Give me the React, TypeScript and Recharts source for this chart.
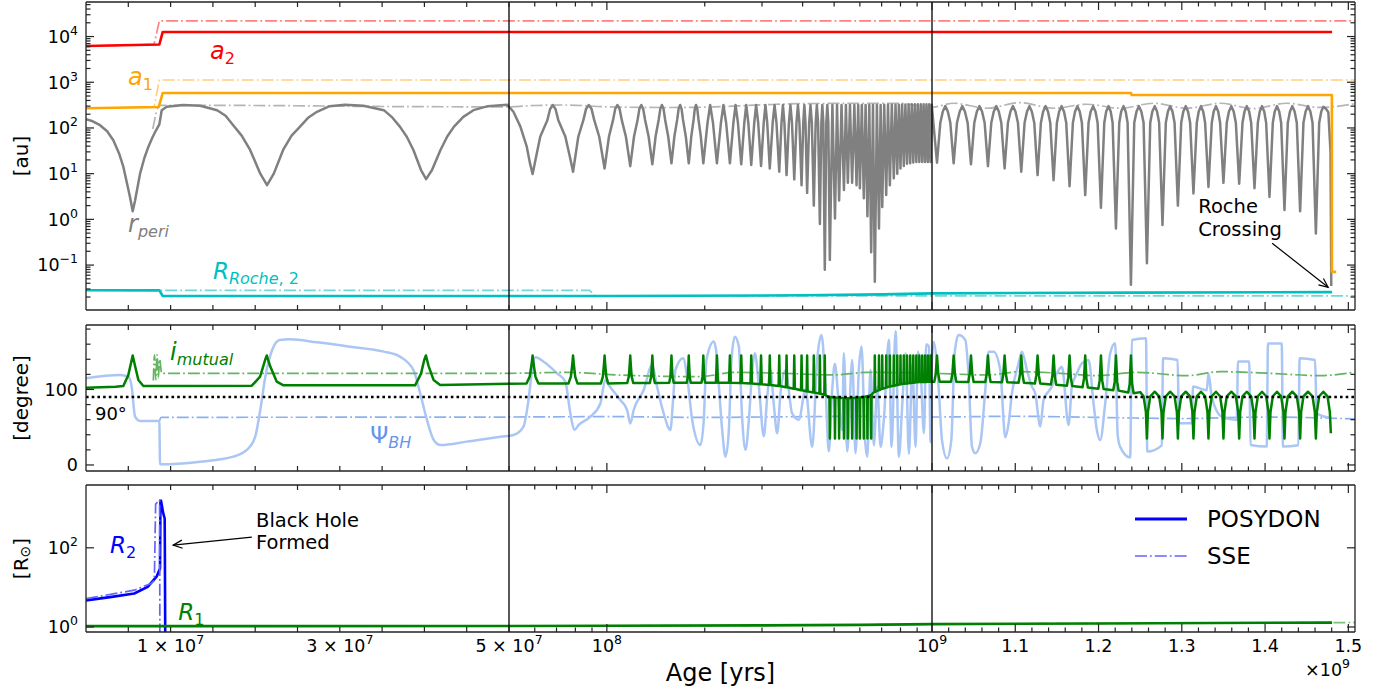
import React from 'react';
import { LineChart, Line, XAxis, YAxis, ReferenceLine, ReferenceDot, Legend } from 'recharts';

type Pt = [number, number];

// every age below is in Myr

// top panel [au]
const a2Posydon: Pt[] = [[0, 6200], [8.67, 6700], [9.07, 12600], [1480.5, 12600]];
const a2Sse: Pt[] = [[0, 6200], [8.04, 6700], [8.67, 22000], [1508, 22000]];
const a1Posydon: Pt[] = [[0, 270], [8.6, 288], [9.07, 582], [1239, 582], [1239.8, 525], [1480.2, 525], [1480.3, 0.071], [1485.4, 0.071]];
const a1Sse: Pt[] = [[0, 270], [8.04, 285], [8.67, 1120], [1508, 1120]];
const rocheP: Pt[] = [[0, 0.0281], [8.67, 0.028], [9.07, 0.0211], [100, 0.0211], [400, 0.0218], [700, 0.0228], [1000, 0.024], [1240, 0.025], [1480.5, 0.0256]];
const rocheSse: Pt[] = [[0, 0.0281], [88.5, 0.028], [92, 0.0211], [1508, 0.0211]];
const rPeriSse: Pt[] = [[7.9, 95], [8.7, 313], [20, 310], [35, 295], [50, 290], [60, 310], [75, 318], [100, 290], [150, 280], [200, 285], [300, 320], [400, 340], [600, 345], [800, 345], [990, 282], [1026, 347], [1066, 270], [1106, 358], [1146, 270], [1186, 330], [1226, 270], [1266, 347], [1306, 270], [1346, 347], [1386, 265], [1426, 347], [1466, 282], [1508, 340]];
const rPeriPosydon: Pt[] = [
  [0, 155], [0.8, 140], [1.66, 115], [2.5, 85], [3.23, 54], [3.9, 28], [4.42, 14], [5.2, 3.1], [5.52, 1.5], [5.8, 2.6], [6.39, 10], [6.9, 22], [7.38, 39], [7.85, 62], [8.28, 89], [8.67, 120],
  [8.95, 245], [9.54, 290], [11.5, 318], [13.5, 305], [15.5, 245], [16.5, 185], [17.4, 115], [18.4, 68], [19.4, 33], [20.6, 10], [21.4, 5.6],
  [22.2, 10], [23.3, 33], [24.3, 68], [25.3, 107], [26.3, 170], [27.3, 226], [28.8, 300], [30.6, 320],
  [32.8, 305], [35.2, 245], [36.2, 170], [37.1, 107], [37.9, 65], [38.7, 33], [39.6, 12], [40.2, 7.6],
  [40.9, 12], [41.9, 33], [42.7, 65], [43.5, 107], [44.6, 175], [45.8, 245], [47.5, 300], [49.8, 320],
  [51.6, 226], [54.2, 107], [56.7, 39], [58, 17], [59.1, 9.8],
  [60.3, 20], [62.4, 65], [65.6, 148], [66.9, 260], [68.2, 316], [69.5, 260], [70.9, 148], [74.5, 65], [77.1, 22], [78.7, 11],
  [81.7, 65], [84.7, 150], [86.3, 262], [88, 318], [89.7, 262], [91.4, 150], [94.7, 65], [98.4, 13],
  [101.5, 65], [104.5, 150], [106.1, 262], [107.8, 318], [109.4, 262], [111.1, 150], [114.4, 65], [118, 14.6],
  [121.2, 65], [124.3, 150], [125.9, 262], [127.6, 318], [129.3, 262], [131.1, 150], [134.4, 65], [138, 16],
  [141.2, 65], [144.3, 150], [146, 262], [147.7, 318], [149.4, 262], [151.1, 150], [154.4, 65], [158, 16.8],
  [161.3, 65], [164.5, 150], [166.2, 262], [168, 318], [169.7, 262], [171.5, 150], [174.9, 65], [178.6, 16.8],
  [181.8, 65], [184.8, 150], [186.4, 262], [188, 318], [189.7, 262], [191.4, 150], [194.5, 65], [198, 16.8],
  [204, 130], [207.8, 318], [212, 130], [218, 16.8], [224.3, 130], [228.3, 318], [232.7, 130], [239, 16.8],
  [245, 130], [248.8, 318], [253, 130], [259, 16], [264.7, 130], [268.3, 318], [272.3, 130], [278, 15.5],
  [284, 130], [287.8, 318], [292, 130], [298, 14.8], [303.7, 130], [307.4, 318], [311.3, 130], [317, 13],
  [323.6, 130], [327.9, 318], [332.4, 130], [339, 11], [344.4, 130], [347.9, 318], [351.6, 130], [357, 9.3],
  [363, 130], [366.9, 318], [371, 130], [377, 7.5], [383, 130], [386.9, 318], [391, 130], [397, 5.6],
  [401.8, 130], [404.9, 318], [408.2, 130], [413, 3.8], [419, 130], [422.9, 318], [427, 130], [433, 2],
  [438.7, 130], [442.4, 318], [446.3, 130], [452, 0.79], [456.8, 130], [459.9, 318], [463.2, 130], [468, 0.079],
  [473.1, 130], [476.4, 318], [479.9, 130], [485, 0.13],
  [493.9, 318], [503, 1.05], [510.4, 318], [518, 2.6], [526.9, 318], [536, 4.4], [543.5, 318], [551, 6.3], [559.4, 318], [568, 6.3],
  [577, 318], [586, 5.6], [593, 318], [600, 4.8], [608.4, 318], [617, 2.9], [624.9, 318], [633, 1.17], [641.4, 318], [650, 0.19],
  [658.4, 318], [667, 0.043], [676.9, 318], [687, 0.63], [695, 318], [703, 1.86], [713, 320], [723, 3.4], [732.4, 320], [742, 5.6],
  [752.4, 320], [763, 7.9], [772.4, 320], [782, 10], [791, 320], [800, 13], [809.4, 325], [819, 14.8], [828.4, 325], [838, 16.5],
  [847.4, 325], [857, 17], [866.4, 330], [876, 17.5], [885.4, 330], [895, 18], [904.4, 330], [914, 18], [923.4, 330], [933, 18],
  [942.4, 330], [952, 18], [961.4, 330], [971, 18], [980.4, 330], [990, 18], [998, 320],
  [1006, 17.4], [1010, 130], [1013, 230], [1016, 300], [1019, 230], [1022, 130],
  [1026, 16.8], [1030, 130], [1033.3, 230], [1036.4, 300], [1039.5, 230], [1042.8, 130],
  [1046.8, 16], [1050.8, 130], [1053.9, 230], [1057, 300], [1060.1, 230], [1063.2, 130],
  [1067.2, 14.6], [1071.2, 130], [1074.2, 230], [1077.2, 300], [1080.2, 230], [1083.2, 130],
  [1087.2, 13], [1091.2, 130], [1094.2, 230], [1097.2, 300], [1100.2, 230], [1103.2, 130],
  [1107.2, 11], [1111.2, 130], [1114.1, 230], [1117, 300], [1119.9, 230], [1122.8, 130],
  [1126.8, 9.3], [1130.8, 130], [1133.5, 230], [1136.4, 300], [1139.3, 230], [1142, 130],
  [1146, 7.2], [1150, 130], [1152.7, 230], [1155.6, 300], [1158.5, 230], [1161.2, 130],
  [1165.2, 5.3], [1169.2, 130], [1171.8, 230], [1174.6, 300], [1177.4, 230], [1180, 130],
  [1184, 3.4], [1188, 130], [1190.6, 230], [1193.5, 300], [1196.3, 230], [1198.9, 130],
  [1202.9, 1.8], [1206.9, 130], [1209.2, 230], [1212, 300], [1214.6, 230], [1216.9, 130],
  [1220.9, 0.63], [1224.9, 130], [1227.2, 230], [1230, 300], [1232.6, 230], [1234.9, 130],
  [1238.9, 0.037], [1242.9, 130], [1245.6, 230], [1248.5, 300], [1251.4, 230], [1254.1, 130],
  [1258.1, 0.11], [1262.1, 130], [1264.6, 230], [1267.5, 300], [1270.3, 230], [1272.8, 130],
  [1276.8, 0.75], [1280.8, 130], [1283.3, 230], [1286, 300], [1288.8, 230], [1291.3, 130],
  [1295.3, 2], [1299.3, 130], [1301.8, 230], [1304.7, 300], [1307.5, 230], [1310, 130],
  [1314, 3.7], [1318, 130], [1320.3, 230], [1323, 300], [1325.7, 230], [1328, 130],
  [1332, 5.1], [1336, 130], [1338.3, 230], [1341, 300], [1343.7, 230], [1346, 130],
  [1350, 6.3], [1354, 130], [1356.6, 230], [1359.5, 300], [1362.3, 230], [1364.9, 130],
  [1368.9, 6], [1372.9, 130], [1375.3, 230], [1378, 300], [1380.9, 230], [1383.3, 130],
  [1387.3, 4.8], [1391.3, 130], [1393.6, 230], [1396.3, 300], [1399, 230], [1401.3, 130],
  [1405.3, 3.1], [1409.3, 130], [1411.6, 230], [1414.3, 300], [1417, 230], [1419.3, 130],
  [1423.3, 1.6], [1427.3, 130], [1429.9, 230], [1432.7, 300], [1435.5, 230], [1438.1, 130],
  [1442.1, 1.5], [1446.1, 130], [1448.7, 230], [1451.5, 300], [1454.4, 230], [1457, 130],
  [1461, 0.49], [1465, 130], [1467.5, 230], [1470, 290], [1473, 265], [1476, 220], [1478.6, 30], [1479.5, 0.035],
];

// middle panel [degree]
const iMutPosydon: Pt[] = [
  [0, 102.4], [3.5, 103.5], [4.41, 104.6], [5, 119], [5.4, 139], [5.52, 145], [5.8, 131], [6.19, 112.6], [6.78, 104.6],
  [19.6, 105], [20.58, 117], [21.17, 139], [21.37, 145], [21.76, 131], [22.55, 110.3], [23.34, 105.5],
  [38.9, 105.5], [39.6, 121], [39.98, 139], [40.18, 145], [40.5, 131], [41.08, 112.6], [41.87, 106], [50, 107.5],
  [56.6, 108], [57.9, 117], [58.7, 134], [59.1, 145], [59.5, 134], [60.3, 117], [61.6, 108],
  [76.2, 108], [77.5, 117], [78.3, 134], [78.7, 145], [79.1, 134], [79.9, 117], [81.2, 108],
  [95.9, 108], [97.2, 117], [98, 134], [98.4, 145], [98.8, 134], [99.6, 117], [100.9, 108],
  [115.5, 108.5], [116.8, 117], [117.6, 134], [118, 145], [118.4, 134], [119.2, 117], [120.5, 108.5],
  [135.5, 108.5], [136.8, 117], [137.6, 134], [138, 145], [138.4, 134], [139.2, 117], [140.5, 108.5],
  [155.5, 109], [156.8, 117], [157.6, 134], [158, 145], [158.4, 134], [159.2, 117], [160.5, 109],
  [176.1, 109], [177.4, 117], [178.2, 134], [178.6, 145], [179, 134], [179.8, 117], [181.1, 109],
  [195.5, 109], [196.8, 117], [197.6, 134], [198, 145], [198.4, 134], [199.2, 117], [200.5, 109],
  [216.5, 109], [218, 145], [219.5, 109], [237.5, 109], [239, 145], [240.5, 109], [257.5, 108.5], [259, 145], [260.5, 108.5],
  [276.5, 108], [278, 145], [279.5, 108], [296.5, 107], [298, 145], [299.5, 107], [315.5, 106], [317, 145], [318.5, 106],
  [337.5, 104.5], [339, 145], [340.5, 104.5], [355.5, 103], [357, 145], [358.5, 103], [375.5, 101], [377, 145], [378.5, 101],
  [395.5, 99], [397, 145], [398.5, 99], [411.5, 97.5], [413, 145], [414.5, 97.5], [431.5, 96], [433, 145], [434.5, 96],
  [450.5, 94.5], [452, 145], [453.5, 94.5], [466.5, 93], [468, 145], [469.5, 93],
  [476, 91], [483.5, 90], [485, 35], [486.5, 90], [501.5, 89.5], [503, 35], [504.5, 89.5], [516.5, 89], [518, 35], [519.5, 89],
  [534.5, 88.5], [536, 35], [537.5, 88.5], [549.5, 88.5], [551, 35], [552.5, 88.5], [566.5, 88.5], [568, 35], [569.5, 88.5],
  [584.5, 89], [586, 35], [587.5, 89], [598.5, 89.5], [600, 35], [601.5, 89.5], [615.5, 90], [617, 35], [618.5, 90],
  [631.5, 91], [633, 35], [634.5, 91], [648.5, 92.5], [650, 35], [651.5, 93],
  [665.5, 97], [667, 145], [668.5, 97], [685.5, 99], [687, 145], [688.5, 99], [701.5, 101], [703, 145], [704.5, 101],
  [721.5, 102.5], [723, 145], [724.5, 102.5], [740.5, 104], [742, 145], [743.5, 104], [761.5, 105], [763, 145], [764.5, 105],
  [780.5, 106], [782, 145], [783.5, 106], [798.5, 107], [800, 145], [801.5, 107], [817.5, 107.5], [819, 145], [820.5, 107.5],
  [836.5, 108], [838, 145], [839.5, 108], [855.5, 108.5], [857, 145], [858.5, 108.5], [874.5, 109], [876, 145], [877.5, 109],
  [893.5, 109.5], [895, 145], [896.5, 109.5], [912.5, 110], [914, 145], [915.5, 110], [931.5, 110], [933, 145], [934.5, 110],
  [950.5, 110], [952, 145], [953.5, 110], [969.5, 110.3], [971, 145], [972.5, 110.3], [988.5, 110.3], [990, 145], [991.5, 110.3],
  [1002.8, 110.3], [1004.5, 121], [1006, 145], [1007.5, 121], [1009.2, 110.3],
  [1022.8, 110.3], [1024.5, 121], [1026, 145], [1027.5, 121], [1029.2, 110.3],
  [1043.6, 110], [1045.3, 121], [1046.8, 145], [1048.3, 121], [1050, 110],
  [1064, 110], [1065.7, 121], [1067.2, 145], [1068.7, 121], [1070.4, 110],
  [1084, 109.5], [1085.7, 120.5], [1087.2, 145], [1088.7, 120.5], [1090.4, 109.5],
  [1104, 109], [1105.7, 120], [1107.2, 145], [1108.7, 120], [1110.4, 108.8],
  [1123.6, 108], [1125.3, 119], [1126.8, 145], [1128.3, 119], [1130, 107.8],
  [1142.8, 106.5], [1144.5, 117.5], [1146, 145], [1147.5, 117.5], [1149.2, 106.3],
  [1162, 105], [1163.7, 116], [1165.2, 145], [1166.7, 116], [1168.4, 104.7],
  [1180.8, 103], [1182.5, 114], [1184, 145], [1185.5, 114], [1187.2, 102.7],
  [1199.7, 101], [1201.4, 112], [1202.9, 145], [1204.4, 112], [1206.1, 100.6],
  [1217.7, 99], [1219.4, 110], [1220.9, 145], [1222.4, 110], [1224.1, 98.5],
  [1235.7, 96], [1237.4, 107], [1238.9, 145], [1240.4, 107], [1242.1, 95],
  [1250, 96.5], [1254.1, 91], [1256.9, 70], [1258.1, 35],
  [1259.3, 70], [1262.1, 91], [1267.5, 97], [1272.8, 91], [1275.6, 70], [1276.8, 35],
  [1278, 70], [1280.8, 91], [1286, 97], [1291.3, 91], [1294.1, 70], [1295.3, 35],
  [1296.5, 70], [1299.3, 91], [1304.7, 97], [1310, 91], [1312.8, 70], [1314, 35],
  [1315.2, 70], [1318, 91], [1323, 97], [1328, 91], [1330.8, 70], [1332, 35],
  [1333.2, 70], [1336, 91], [1341, 97], [1346, 91], [1348.8, 70], [1350, 35],
  [1351.2, 70], [1354, 91], [1359.5, 97], [1364.9, 91], [1367.7, 70], [1368.9, 35],
  [1370.1, 70], [1372.9, 91], [1378, 97], [1383.3, 91], [1386.1, 70], [1387.3, 35],
  [1388.5, 70], [1391.3, 91], [1396.3, 97], [1401.3, 91], [1404.1, 70], [1405.3, 35],
  [1406.5, 70], [1409.3, 91], [1414.3, 97], [1419.3, 91], [1422.1, 70], [1423.3, 35],
  [1424.5, 70], [1427.3, 91], [1432.7, 97], [1438.1, 91], [1440.9, 70], [1442.1, 35],
  [1443.3, 70], [1446.1, 91], [1451.5, 97], [1457, 91], [1459.8, 70], [1461, 35],
  [1462.2, 70], [1465, 91], [1470, 97], [1475, 91], [1477.8, 70], [1479, 42],
];
const iMutSse: Pt[] = [[7.96, 112], [8.1, 146], [8.25, 113], [8.4, 146], [8.55, 115], [8.7, 140], [8.95, 121.4], [50, 121.4], [75.4, 122.6], [107.9, 119.2], [194, 117], [245.7, 122.6], [349.7, 121.4], [499, 119.2], [631, 122.6], [1001.9, 121.4], [1066, 119.2], [1106, 123.6], [1154, 121.4], [1198, 118.3], [1246, 122.7], [1306, 118.3], [1346, 123.6], [1406, 121.4], [1466, 118.3], [1506, 122.7]];
const psiPosydon: Pt[] = [
  [0, 114.8], [4.02, 119.2], [5, 117], [5.4, 103.7], [5.8, 64], [6.39, 58.3], [8.67, 58.3], [8.75, 0.9], [13.5, 4.4], [17.4, 11], [19, 19.9],
  [20, 37.5], [20.6, 72.8], [21.2, 117], [22, 152.3], [22.9, 165.6], [24.1, 166.5], [27.3, 162.5], [31.2, 156.7], [35.2, 150.1], [37.1, 143.5],
  [38.7, 125.8], [39.5, 95], [40.3, 59.6], [41.1, 33.1], [41.9, 26.5], [45, 30.9], [49, 37.5],
  [51.6, 39.7], [55.4, 50.8], [57.4, 86], [58.9, 125.8], [60.3, 142.6], [63.9, 136.7], [70.3, 121.4], [74.5, 110.4], [77.2, 68.4], [79.4, 46.4],
  [81.9, 53], [89, 64], [95.5, 81.5], [98.9, 112.6], [101.3, 106], [110, 86], [115.4, 72.8], [118.1, 55], [120.9, 72.8], [129.8, 99.3],
  [137.8, 132.5], [142.7, 103.6], [149.5, 68.4], [156.8, 46.4], [159.8, 86], [162.5, 125.8], [171.6, 141.3], [176.5, 117], [183, 59.6],
  [194, 26.5], [198.6, 59.6], [202.4, 139], [213.2, 163.4], [217, 150], [221, 105], [226.3, 46], [231.7, 11], [237.2, 46], [241.7, 139],
  [247.5, 170], [254.6, 157], [260.8, 60], [267, 20], [273.4, 60], [280, 126], [285.2, 148], [293.3, 105], [303.9, 38], [311.3, 90],
  [318.6, 126], [326.2, 80], [334.1, 42], [342, 95], [354.3, 125], [371.6, 68], [389.4, 60], [408.3, 100], [428.1, 24], [443.5, 140],
  [457.2, 172], [470.3, 104], [481.5, 18], [493.3, 100], [502.5, 134], [516.9, 81], [529.5, 46], [535.5, 148], [548.5, 18], [568.3, 139],
  [581.8, 15.5], [595.6, 126], [607.1, 157], [621.5, 37], [632.2, 11], [647, 126], [662.4, 26], [678.6, 104], [694.6, 24], [711.1, 60],
  [736.8, 166], [751, 24], [772.6, 177], [791, 11], [810.3, 81], [829.5, 148], [849.1, 15], [869.8, 134], [890.3, 24], [905, 150],
  [922.5, 126], [944.4, 42], [960, 160], [978.5, 157], [990, 30], [996, 120],
  [1001.9, 163], [1007.9, 103.8], [1012, 33], [1018, 8.8], [1023.2, 33], [1027.2, 148], [1031.9, 172], [1040, 165.6], [1044, 117],
  [1048, 24.3], [1052, 15.5], [1058, 28.7], [1064, 99.3], [1068, 150], [1074, 150], [1082, 125.8], [1088, 36.7], [1092, 55.2],
  [1096, 94.9], [1104, 134.7], [1108, 150], [1114, 125.8], [1120, 103.8], [1124, 94.9], [1130, 50.8], [1134, 86], [1144, 103.8],
  [1150, 121.4], [1156, 130.2], [1164, 53], [1168, 103.8], [1174, 121.4], [1180, 134.7], [1188, 139], [1194, 81.6], [1198, 46.4],
  [1202, 33.1], [1208, 81.6], [1214, 147.9], [1220, 161.1], [1223, 40], [1226, 24], [1238, 10], [1240, 165.6], [1257, 167.8],
  [1258.5, 17.7], [1276, 26], [1277.5, 141.3], [1295, 139], [1296.5, 55.2], [1312, 55.2], [1313.5, 103.8], [1330, 99], [1332, 121],
  [1336, 90], [1348, 64], [1366, 59.6], [1367.5, 137], [1381, 136.9], [1382.5, 26.5], [1402, 24.3], [1403.5, 161], [1420, 161],
  [1421.5, 24.3], [1440, 26], [1441.5, 141.3], [1460, 139], [1462, 68.4], [1480, 62],
];
const psiSse: Pt[] = [[8.67, 58], [8.9, 63], [50, 63.5], [100, 64], [200, 63], [400, 64], [600, 64.5], [800, 63.5], [1000, 63.5], [1100, 64.5], [1200, 63], [1300, 61.5], [1400, 63.5], [1508, 61]];

// bottom panel [Rsun]
const r2Posydon: Pt[] = [[0, 4.7], [3.05, 5.75], [5.7, 7], [7.29, 10.3], [8.34, 18.6], [8.75, 30], [8.8, 1500], [8.87, 1550], [9.13, 740], [9.3, 550], [9.32, 106], [9.4, 0.01]];
const r2Sse: Pt[] = [[0, 5.2], [5.7, 8.5], [7.7, 12.6], [8.08, 15], [8.23, 1270], [8.7, 1620], [8.75, 0.01]];
const r1Posydon: Pt[] = [[0, 1.05], [50, 1.06], [100, 1.07], [300, 1.1], [600, 1.13], [1000, 1.18], [1200, 1.23], [1480.5, 1.29]];
const r1Sse: Pt[] = [[0, 1.05], [50, 1.06], [100, 1.07], [300, 1.1], [600, 1.13], [1000, 1.18], [1200, 1.23], [1480.5, 1.29], [1508, 1.3]];

// axis ticks (Myr)
const xTickLeft = [5, 10, 15, 20, 25, 30, 35, 40, 45, 50];
const xTickMinor = [60, 70, 80, 90, 200, 300, 400, 500, 600, 700, 800, 900, 1020, 1040, 1060, 1080, 1120, 1140, 1160, 1180, 1220, 1240, 1260, 1280, 1320, 1340, 1360, 1380, 1420, 1440, 1460, 1480];
const xTickMajor = [100, 1000, 1100, 1200, 1300, 1400, 1500];
const xTickLabels: [number, string, string][] = [[10, '1 × 10', '7'], [30, '3 × 10', '7'], [50, '5 × 10', '7'], [100, '10', '8'], [1000, '10', '9'], [1100, '1.1', ''], [1200, '1.2', ''], [1300, '1.3', ''], [1400, '1.4', ''], [1500, '1.5', '']];
const auDecades: [number, string][] = [[0.1, '−1'], [1, '0'], [10, '1'], [100, '2'], [1000, '3'], [10000, '4']];
const degTicks = [0, 20, 40, 60, 80, 100, 120, 140, 160, 180];
const rsunTicks: [number, string][] = [[1, '0'], [100, '2']];

const FONT = "'DejaVu Sans', sans-serif";
const W = 1390;
const MARGIN_X = { left: 85, right: 34 };
const FRAME = { stroke: '#222', strokeWidth: 1.3 };
const DASHDOT = '12 3 1.8 3';

const toU = (age: number) =>
  age <= 50 ? age / 50 : age <= 1000 ? 1 + Math.log10(age / 50) / Math.log10(20) : 2 + (age - 1000) / 508;
const ser = (pts: Pt[]) => pts.map(([age, v]) => ({ u: toU(age), v }));

const supText = (base: string, exp: string) => (
  <>
    {base}
    {exp ? <tspan dy={-8} fontSize={12.5}>{exp}</tspan> : null}
  </>
);

type TickSpec = { v: number; len: number; label?: React.ReactNode };

const xSpecs: TickSpec[] = [
  ...xTickLeft.map((a) => ({ v: toU(a), len: 5 })),
  ...xTickMinor.map((a) => ({ v: toU(a), len: 4.5 })),
  ...xTickMajor.map((a) => ({ v: toU(a), len: 8 })),
].map((t) => {
  const lab = xTickLabels.find(([a]) => Math.abs(toU(a) - t.v) < 1e-9);
  return lab ? { ...t, label: supText(lab[1], lab[2]) } : t;
});

const auSpecs: TickSpec[] = [];
for (let k = -2; k <= 4; k++) {
  for (let m = 1; m <= 9; m++) {
    const v = m * Math.pow(10, k);
    if (v < 0.0104 || v > 57000) continue;
    const dec = auDecades.find(([d]) => Math.abs(d - v) < 1e-9 * v);
    auSpecs.push(dec ? { v: dec[0], len: 8, label: supText('10', dec[1]) } : { v, len: 4.5 });
  }
}
const degSpecs: TickSpec[] = degTicks.map((d) => (d % 100 === 0 ? { v: d, len: 8, label: String(d) } : { v: d, len: 4.5 }));
const rsunSpecs: TickSpec[] = rsunTicks.map(([v, e]) => ({ v, len: 8, label: supText('10', e) }));

type Side = 'bottom' | 'top' | 'left' | 'right';
const mkTick = (specs: TickSpec[], side: Side, withLabel: boolean) => (p: any) => {
  const val = p.payload ? p.payload.value : NaN;
  const s = specs.find((t) => Math.abs(t.v - val) <= 1e-9 * Math.max(1, Math.abs(t.v)));
  if (!s) return <g />;
  const { x, y } = p;
  const end =
    side === 'bottom' ? [x, y - s.len] : side === 'top' ? [x, y + s.len] : side === 'left' ? [x + s.len, y] : [x - s.len, y];
  let label: React.ReactNode = null;
  if (withLabel && s.label) {
    label =
      side === 'bottom' ? (
        <text x={x} y={y + 20} textAnchor="middle" fontSize={17.5} fontFamily={FONT} fill="#000">{s.label}</text>
      ) : (
        <text x={x - 8} y={y + 6.3} textAnchor="end" fontSize={17.5} fontFamily={FONT} fill="#000">{s.label}</text>
      );
  }
  return (
    <g>
      <line x1={x} y1={y} x2={end[0]} y2={end[1]} stroke="#222" strokeWidth={1.2} />
      {label}
    </g>
  );
};

const xVals = xSpecs.map((t) => t.v);

const axesFor = (ySpecs: TickSpec[], yDomain: [number, number], log: boolean, bottomLabels: boolean, yTitle: React.ReactNode, titleY: number, xTitle?: boolean) => [
  <XAxis key="xb" xAxisId="b" dataKey="u" type="number" domain={[0, 3]} allowDataOverflow ticks={xVals} interval={0}
    height={1} tickSize={0} tickMargin={0} tickLine={false} axisLine={FRAME} tick={mkTick(xSpecs, 'bottom', bottomLabels)}
    label={xTitle ? {
      content: (lp: any) => {
        const vb = lp.viewBox || { x: 86, y: 157, width: 1269 };
        return (
          <g fontFamily={FONT} fill="#000">
            <text x={vb.x + vb.width / 2} y={vb.y + 49} textAnchor="middle" fontSize={24}>Age [yrs]</text>
            <text x={vb.x + vb.width - 5} y={vb.y + 44} textAnchor="end" fontSize={17.5}>×10<tspan dy={-8} fontSize={12.5}>9</tspan></text>
          </g>
        );
      },
    } : undefined} />,
  <XAxis key="xt" xAxisId="t" orientation="top" dataKey="u" type="number" domain={[0, 3]} allowDataOverflow ticks={xVals} interval={0}
    height={1} tickSize={0} tickMargin={0} tickLine={false} axisLine={FRAME} tick={mkTick(xSpecs, 'top', false)} />,
  <YAxis key="yl" yAxisId="l" type="number" scale={log ? 'log' : 'linear'} domain={yDomain} allowDataOverflow ticks={ySpecs.map((t) => t.v)} interval={0}
    width={1} tickSize={0} tickMargin={0} tickLine={false} axisLine={FRAME} tick={mkTick(ySpecs, 'left', true)}
    label={{
      content: () => (
        <text transform={`translate(21, ${titleY}) rotate(-90)`} textAnchor="middle" dominantBaseline="central" fontSize={20} fontFamily={FONT} fill="#000">{yTitle}</text>
      ),
    }} />,
  <YAxis key="yr" yAxisId="r" orientation="right" type="number" scale={log ? 'log' : 'linear'} domain={yDomain} allowDataOverflow ticks={ySpecs.map((t) => t.v)} interval={0}
    width={1} tickSize={0} tickMargin={0} tickLine={false} axisLine={FRAME} tick={mkTick(ySpecs, 'right', false)} />,
];

const line = (key: string, pts: Pt[], color: string, width: number, dashed = false, curve: 'linear' | 'monotone' = 'linear', name?: string) => (
  <Line key={key} data={ser(pts)} dataKey="v" xAxisId="b" yAxisId="l" type={curve} stroke={color} strokeWidth={width}
    strokeDasharray={dashed ? DASHDOT : undefined} strokeLinejoin="round" dot={false} activeDot={false}
    isAnimationActive={false} legendType={name ? 'line' : 'none'} name={name || key} />
);

const bounds = [1, 2].map((u) => (
  <ReferenceLine key={`v${u}`} x={u} xAxisId="b" yAxisId="l" stroke="#000" strokeWidth={1.3} />
));

const note = (key: string, age: number, val: number, lines: React.ReactNode[], color: string, size: number, gap = 0) => (
  <ReferenceDot key={key} xAxisId="b" yAxisId="l" x={toU(age)} y={val} r={0}
    shape={(p: any) => (
      <text x={p.cx} y={p.cy} fill={color} fontSize={size} fontFamily={FONT}>
        {lines.map((l, i) => (
          <tspan key={i} x={p.cx} y={p.cy + i * gap}>{l}</tspan>
        ))}
      </text>
    )} />
);

const Arrow = (p: any) => {
  const { x1, y1, x2, y2 } = p;
  const ang = Math.atan2(y2 - y1, x2 - x1);
  const L = 10;
  const a = 0.42;
  const pa = `${x2 - L * Math.cos(ang - a)},${y2 - L * Math.sin(ang - a)} ${x2},${y2} ${x2 - L * Math.cos(ang + a)},${y2 - L * Math.sin(ang + a)}`;
  return (
    <g>
      <line x1={x1} y1={y1} x2={x2} y2={y2} stroke="#000" strokeWidth={1.2} />
      <polyline points={pa} fill="none" stroke="#000" strokeWidth={1.2} />
    </g>
  );
};

const arrow = (key: string, from: Pt, to: Pt) => (
  <ReferenceLine key={key} xAxisId="b" yAxisId="l" ifOverflow="visible"
    segment={[{ x: toU(from[0]), y: from[1] }, { x: toU(to[0]), y: to[1] }]} shape={Arrow} />
);

const sub = (s: React.ReactNode, italic = true) => (
  <tspan dy={5} fontSize={16} fontStyle={italic ? 'italic' : 'normal'}>{s}</tspan>
);

const LegendBox = (props: any) => (
  <div style={{ fontFamily: FONT, fontSize: 23, color: '#000' }}>
    {(props.payload || []).filter((e: any) => e.type !== 'none').map((e: any) => {
      const dash = e.payload && e.payload.strokeDasharray;
      return (
        <div key={e.value} style={{ display: 'flex', alignItems: 'center', height: 37 }}>
          <svg width={56} height={10}>
            <line x1={2} x2={54} y1={5} y2={5} stroke={e.color} strokeWidth={dash ? 1.7 : 2.8} strokeDasharray={dash} />
          </svg>
          <span style={{ marginLeft: 18 }}>{e.value}</span>
        </div>
      );
    })}
  </div>
);

function TopPanel() {
  return (
    <LineChart width={W} height={320} margin={{ top: 1, bottom: 9, ...MARGIN_X }}>
      {axesFor(auSpecs, [0.0104, 57000], true, false, '[au]', 156)}
      {line('a2s', a2Sse, '#ff8080', 1.7, true)}
      {line('a1s', a1Sse, '#ffd080', 1.7, true)}
      {line('rps', rPeriSse, '#b5b5b5', 1.7, true, 'monotone')}
      {line('rs', rocheSse, '#70d8d8', 1.7, true)}
      {line('rp', rPeriPosydon, '#808080', 2.5)}
      {line('a2', a2Posydon, '#ff0000', 2.6)}
      {line('a1', a1Posydon, '#ffa500', 2.6)}
      {line('r', rocheP, '#00bfbf', 2.6)}
      {bounds}
      {note('la2', 14.67, 3150, [<><tspan fontStyle="italic">a</tspan>{sub('2', false)}</>], '#ff0000', 24)}
      {note('la1', 4.97, 870, [<><tspan fontStyle="italic">a</tspan>{sub('1', false)}</>], '#ffa500', 24)}
      {note('lrp', 4.97, 0.525, [<><tspan fontStyle="italic">r</tspan>{sub('peri')}</>], '#808080', 24)}
      {note('lro', 15.0, 0.0507, [<><tspan fontStyle="italic">R</tspan><tspan dy={5} fontSize={16}><tspan fontStyle="italic">Roche</tspan>, 2</tspan></>], '#00bfbf', 23)}
      {note('lrc', 1319.7, 1.37, ['Roche', 'Crossing'], '#000', 19.5, 23)}
      {arrow('arc', [1408.5, 0.301], [1475.7, 0.0327])}
    </LineChart>
  );
}

function MiddlePanel() {
  return (
    <LineChart width={W} height={165} margin={{ top: 9, bottom: 8, ...MARGIN_X }}>
      {axesFor(degSpecs, [-8, 185.4], false, false, '[degree]', 83)}
      {line('ps', psiSse, '#8db1f0', 1.7, true, 'monotone')}
      {line('p', psiPosydon, '#aac6f4', 2.5, false, 'monotone')}
      {line('is', iMutSse, '#64b464', 1.7, true, 'monotone')}
      {line('i', iMutPosydon, '#008000', 2.5)}
      <ReferenceLine y={90} xAxisId="b" yAxisId="l" stroke="#000" strokeWidth={2.4} strokeDasharray="2.6 3.1" />
      {bounds}
      {note('li', 9.94, 139, [<><tspan fontStyle="italic">i</tspan>{sub('mutual')}</>], '#008000', 24)}
      {note('lp', 33.6, 29.3, [<><tspan>Ψ</tspan>{sub('BH')}</>], '#6495ed', 23)}
      {note('l90', 1.06, 59.6, ['90°'], '#000', 18)}
    </LineChart>
  );
}

function BottomPanel() {
  return (
    <LineChart width={W} height={214} margin={{ top: 9, bottom: 56, ...MARGIN_X }}>
      {axesFor(rsunSpecs, [0.747, 3860], true, true, <>[R<tspan dy={4} fontSize={14}>⊙</tspan><tspan dy={-4}>]</tspan></>, 83.5, true)}
      {line('r2', r2Posydon, '#0000ff', 2.6, false, 'linear', 'POSYDON')}
      {line('r2s', r2Sse, '#6464ff', 1.7, true, 'linear', 'SSE')}
      {line('r1s', r1Sse, '#7cc07c', 1.7, true)}
      {line('r1', r1Posydon, '#008000', 2.6)}
      {bounds}
      {note('lr2', 2.84, 73.5, [<><tspan fontStyle="italic">R</tspan>{sub('2', false)}</>], '#0000ff', 23)}
      {note('lr1', 10.9, 1.48, [<><tspan fontStyle="italic">R</tspan>{sub('1', false)}</>], '#008000', 23)}
      {note('lbh', 20.1, 334, ['Black Hole', 'Formed'], '#000', 19.5, 22)}
      {arrow('abh', [19.6, 186], [10.3, 117])}
      <Legend layout="horizontal" verticalAlign="middle" align="center" content={LegendBox}
        wrapperStyle={{ left: 1133, top: 25.5, width: 230, height: 76 }} />
    </LineChart>
  );
}

export default function App() {
  return (
    <div style={{ position: 'absolute', left: 0, top: 0, width: W, height: 689, background: '#fff', fontFamily: FONT }}>
      <div style={{ position: 'absolute', left: 0, top: 0 }}><TopPanel /></div>
      <div style={{ position: 'absolute', left: 0, top: 315 }}><MiddlePanel /></div>
      <div style={{ position: 'absolute', left: 0, top: 475 }}><BottomPanel /></div>
    </div>
  );
}
